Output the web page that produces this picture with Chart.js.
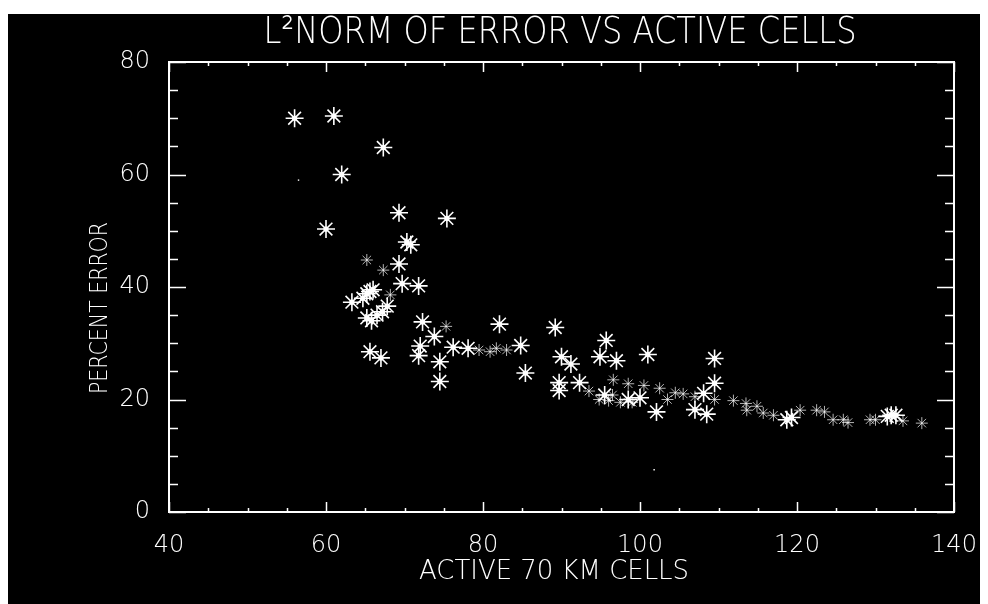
<!DOCTYPE html>
<html>
<head>
<meta charset="utf-8">
<script src="https://cdn.jsdelivr.net/npm/chart.js@4.4.1/dist/chart.umd.min.js"></script>
<style>
  html, body { margin: 0; padding: 0; background: #fff; }
  #wrap { width: 988px; height: 604px; }
</style>
</head>
<body>
<div id="wrap"><canvas id="errChart" width="988" height="604"></canvas></div>
<script>
// --- DATA ---
const chartTitle = 'L\u00B2NORM OF ERROR VS ACTIVE CELLS';
const xTitle = 'ACTIVE 70 KM CELLS';
const yTitle = 'PERCENT ERROR';
const xTicks = [40, 60, 80, 100, 120, 140];
const yTicks = [0, 20, 40, 60, 80];

// bright asterisks (x = active cells, y = percent error)
const starX = [56, 61, 62, 67.3, 69.3, 75.4, 60, 70.3, 70.8, 69.3, 69.7, 71.8, 65.2, 65.6, 63.3, 67.8,
  66.5, 65.2, 65.6, 67.0, 72.3, 73.8, 72.0, 71.8, 74.5, 74.5, 76.2, 78.1, 82.1, 84.8, 85.4, 89.2,
  90.0, 91.2, 89.7, 89.7, 92.3, 95.7, 94.9, 97.0, 101.0, 109.5, 109.5, 95.5, 100.0, 98.5, 102.1, 107.0,
  108.5, 108.1, 118.7, 119.3, 132.0, 132.6, 131.5, 64.7, 66.0, 67.2, 65.8];
const starY = [70, 70.4, 60, 64.8, 53.2, 52.2, 50.3, 48.0, 47.5, 44.1, 40.6, 40.2, 38.8, 39.2, 37.3, 36.6,
  35.0, 34.5, 28.5, 27.4, 33.8, 31.2, 29.5, 27.8, 26.7, 23.2, 29.3, 29.1, 33.4, 29.6, 24.7, 32.8,
  27.6, 26.3, 23.0, 21.6, 23.0, 30.5, 27.6, 26.9, 28.0, 27.3, 22.9, 20.8, 20.3, 20.0, 17.8, 18.2,
  17.4, 21.1, 16.4, 16.8, 17.2, 17.2, 17.0, 38.0, 39.5, 35.6, 34.0];

// faint small asterisks
const faintX = [65.2, 67.3, 68.2, 75.3, 79.5, 80.9, 81.7, 83.0, 93.5, 94.8, 96.0, 96.5, 96.6, 97.5, 98.5,
  99.0, 100.5, 102.5, 103.5, 104.5, 105.5, 107.0, 109.5, 111.9, 113.5, 113.6, 114.9, 115.7, 117.0, 120.4,
  122.5, 123.5, 124.6, 125.9, 126.5, 129.3, 130.0, 133.5, 135.9];
const faintY = [44.8, 43.0, 38.6, 33.0, 28.8, 28.5, 29.1, 28.8, 21.5, 20.0, 19.8, 20.8, 23.5, 19.5, 22.8,
  19.5, 22.5, 22.0, 20.0, 21.2, 21.0, 20.5, 20.0, 19.8, 19.3, 18.1, 18.8, 17.6, 17.2, 18.1,
  18.1, 17.8, 16.4, 16.4, 15.9, 16.4, 16.4, 16.2, 15.8];

// stray single pixels
const dotX = [56.5, 101.8];
const dotY = [59.0, 7.5];

const toPoints = (xs, ys) => xs.map((x, i) => ({ x: x, y: ys[i] }));

const FONT = '"DejaVu Sans", "Liberation Sans", sans-serif';

// --- PLOT FRAME, INWARD TICKS, BACKGROUND AND TEXTS ---
const framePlugin = {
  id: 'frame',
  beforeDraw(chart) {
    const ctx = chart.ctx;
    ctx.save();
    ctx.fillStyle = '#fff';
    ctx.fillRect(0, 0, chart.width, chart.height);
    ctx.fillStyle = '#000';
    ctx.fillRect(8, 14, 972, 590);
    ctx.restore();
  },
  afterDraw(chart) {
    const ctx = chart.ctx;
    const { left, right, top, bottom } = chart.chartArea;
    const xs = chart.scales.x, ys = chart.scales.y;
    ctx.save();
    ctx.strokeStyle = '#fff';
    ctx.lineWidth = 2;
    ctx.strokeRect(left, top, right - left, bottom - top);

    ctx.lineWidth = 1.5;
    ctx.beginPath();
    for (let v = 40; v <= 140; v += 5) {
      const px = Math.round(xs.getPixelForValue(v)) + 0.5;
      const len = v % 20 === 0 ? 10 : 4;
      ctx.moveTo(px, bottom); ctx.lineTo(px, bottom - len);
      ctx.moveTo(px, top); ctx.lineTo(px, top + len);
    }
    for (let v = 0; v <= 80; v += 5) {
      const py = Math.round(ys.getPixelForValue(v)) + 0.5;
      const len = v % 20 === 0 ? 17 : 9;
      ctx.moveTo(left, py); ctx.lineTo(left + len, py);
      ctx.moveTo(right, py); ctx.lineTo(right - len, py);
    }
    ctx.stroke();

    // texts, drawn thin and a bit condensed like the plotter font
    ctx.fillStyle = '#fff';
    ctx.textAlign = 'center';
    ctx.textBaseline = 'middle';
    const drawText = (txt, x, y, size, width, rot) => {
      ctx.save();
      ctx.font = '200 ' + size + 'px ' + FONT;
      const w = ctx.measureText(txt).width;
      ctx.translate(x, y);
      if (rot) ctx.rotate(rot);
      ctx.scale(width / w, 1);
      ctx.fillText(txt, 0, 0);
      ctx.restore();
    };
    drawText(chartTitle, 560, 33, 38, 593, 0);
    drawText(xTitle, 554, 572, 27, 270, 0);
    drawText(yTitle, 100, 308, 25, 172, -Math.PI / 2);
    ctx.restore();
  }
};

const tickFont = { family: FONT, size: 24, weight: '200' };

new Chart(document.getElementById('errChart'), {
  type: 'scatter',
  data: {
    datasets: [
      {
        label: 'faint',
        data: toPoints(faintX, faintY),
        pointStyle: 'star',
        radius: 6,
        borderColor: 'rgba(255,255,255,0.7)',
        borderWidth: 1
      },
      {
        label: 'stars',
        data: toPoints(starX, starY),
        pointStyle: 'star',
        radius: 9,
        borderColor: '#fff',
        borderWidth: 1.6
      },
      {
        label: 'centres',
        data: toPoints(starX, starY),
        pointStyle: 'circle',
        radius: 2.6,
        backgroundColor: '#fff',
        borderColor: '#fff',
        borderWidth: 0
      },
      {
        label: 'dots',
        data: toPoints(dotX, dotY),
        pointStyle: 'rect',
        radius: 1,
        backgroundColor: '#fff',
        borderColor: '#fff',
        borderWidth: 0
      }
    ]
  },
  options: {
    responsive: false,
    animation: false,
    devicePixelRatio: 1,
    layout: { padding: { left: 0, top: 62, right: 34, bottom: 0 } },
    plugins: {
      legend: { display: false },
      tooltip: { enabled: false }
    },
    scales: {
      x: {
        type: 'linear',
        min: 40, max: 140,
        afterBuildTicks: (scale) => { scale.ticks = xTicks.map(v => ({ value: v })); },
        afterFit: (scale) => { scale.height = 92; },
        grid: { display: false },
        border: { display: false },
        ticks: { color: '#fff', font: tickFont, padding: 11, maxRotation: 0 }
      },
      y: {
        type: 'linear',
        min: 0, max: 80,
        afterBuildTicks: (scale) => { scale.ticks = yTicks.map(v => ({ value: v })); },
        afterFit: (scale) => { scale.width = 169; },
        grid: { display: false },
        border: { display: false },
        ticks: { color: '#fff', font: tickFont, padding: 11 }
      }
    }
  },
  plugins: [framePlugin]
});
</script>
</body>
</html>
